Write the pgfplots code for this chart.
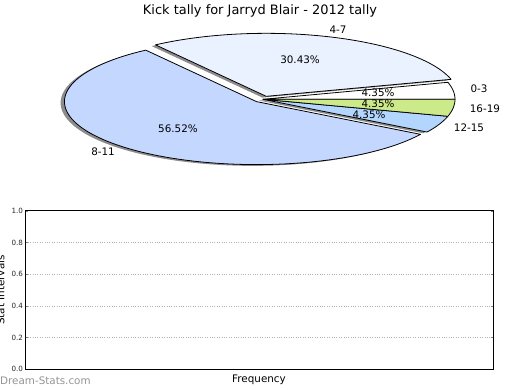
\documentclass[border=0pt]{standalone}
\usepackage{pgfplots}
\pgfplotsset{compat=1.18}
\usepackage{fontspec}
\setmainfont{DejaVu Sans}
\definecolor{cA}{HTML}{FFFFFF}
\definecolor{cB}{HTML}{EAF2FF}
\definecolor{cC}{HTML}{C4D8FF}
\definecolor{cD}{HTML}{B3D6FF}
\definecolor{cE}{HTML}{CDEA8A}
% counts: 0-3:1, 4-7:7, 8-11:13, 12-15:1, 16-19:1 (total 23)
% slice boundaries (deg): 0, 15.652, 125.217, 328.696, 344.348, 360
\newcommand{\pieslice}[5]{%
  \addplot[draw=black, line width=0.8pt, line join=round, fill=#5, domain=#1:#2, samples=90, variable=\t]
    ({#3+cos(\t)},{#4+sin(\t)}) -- (axis cs:#3,#4) -- cycle;}
\newcommand{\pieshadow}[4]{%
  \addplot[draw=none, fill=black!45, domain=#1:#2, samples=90, variable=\t]
    ({#3+cos(\t)},{#4+sin(\t)}) -- (axis cs:#3,#4) -- cycle;}
\begin{document}
\begin{tikzpicture}
\useasboundingbox (0,0) rectangle (520bp,390bp);
\node at (260bp,379bp) {\fontsize{13}{15}\selectfont Kick tally for Jarryd Blair - 2012 tally};
\begin{axis}[at={(263bp,290.7bp)}, anchor=center, scale only axis,
  width=460.8bp, height=151.2bp, xmin=-1.2, xmax=1.2, ymin=-1.2, ymax=1.2,
  hide axis, clip=false]
% shadows
\pieshadow{0}{15.652}{-0.02}{-0.02}
\pieshadow{15.652}{125.217}{-0.00325}{0.02711}
\pieshadow{125.217}{328.696}{-0.05411}{-0.05655}
\pieshadow{328.696}{344.348}{-0.02}{-0.02}
\pieshadow{344.348}{360}{-0.02}{-0.02}
% slices
\pieslice{0}{15.652}{0}{0}{cA}
\pieslice{15.652}{125.217}{0.01675}{0.04711}{cB}
\pieslice{125.217}{328.696}{-0.03411}{-0.03655}{cC}
\pieslice{328.696}{344.348}{0}{0}{cD}
\pieslice{344.348}{360}{0}{0}{cE}
\begin{scope}[every node/.style={font=\fontsize{10.4}{12}\selectfont}]
\node at (axis cs:0.391,1.100) {4-7};
\node at (axis cs:0.193,0.624) {30.43\%};
\node at (axis cs:1.125,0.163) {0-3};
\node at (axis cs:0.599,0.100) {4.35\%};
\node at (axis cs:1.156,-0.154) {16-19};
\node at (axis cs:0.599,-0.075) {4.35\%};
\node at (axis cs:1.073,-0.456) {12-15};
\node at (axis cs:0.552,-0.249) {4.35\%};
\node at (axis cs:-0.443,-0.471) {56.52\%};
\node at (axis cs:-0.833,-0.837) {8-11};
\end{scope}
\end{axis}
\begin{axis}[at={(25.5bp,20.7bp)}, anchor=south west, scale only axis,
  width=467.8bp, height=158.6bp, xmin=0, xmax=1, ymin=0, ymax=1,
  xtick=\empty, ytick={0,0.2,0.4,0.6,0.8,1},
  /pgf/number format/assume math mode=true,
  yticklabel style={/pgf/number format/.cd, fixed, fixed zerofill, precision=1, /tikz/.cd,
    font=\fontsize{7.2}{8}\selectfont, color=black!85, xshift=1bp},
  ymajorgrids, grid style={dotted, black!30, line width=0.7pt},
  tick align=inside, major tick length=2.5bp, ytick style={black!50},
  axis line style={line width=0.8pt}]
\end{axis}
\node[rotate=90, inner sep=0pt] at (0.5bp,100bp) {\fontsize{10.4}{12}\selectfont Stat Intervals};
\node at (259bp,10.5bp) {\fontsize{10.4}{12}\selectfont Frequency};
\node[anchor=west, inner sep=0pt, text=black!42] at (0bp,9.5bp) {\fontsize{10.4}{12}\selectfont Dream-Stats.com};
\end{tikzpicture}
\end{document}
